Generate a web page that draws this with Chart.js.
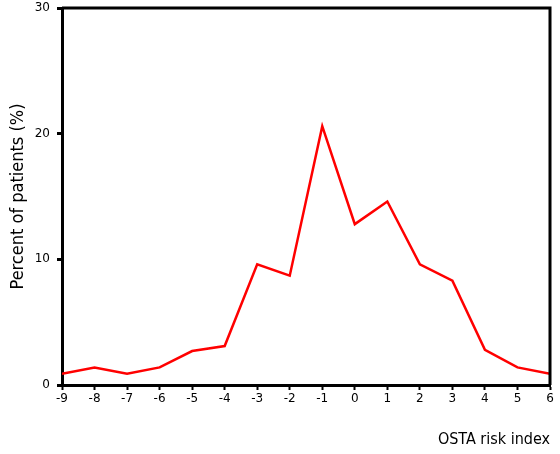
<!DOCTYPE html>
<html>
<head>
<meta charset="utf-8">
<script src="https://cdn.jsdelivr.net/npm/chart.js@4"></script>
<style>
  html, body { margin: 0; padding: 0; background: #fff; }
  #wrap { width: 560px; height: 454px; }
</style>
</head>
<body>
<div id="wrap"><canvas id="c" width="560" height="454"></canvas></div>
<script>
const categories = [-9, -8, -7, -6, -5, -4, -3, -2, -1, 0, 1, 2, 3, 4, 5, 6];
const percentValues = [0.9, 1.4, 0.9, 1.4, 2.7, 3.1, 9.6, 8.7, 20.6, 12.8, 14.6, 9.6, 8.3, 2.8, 1.4, 0.9];
const yTicks = [0, 10, 20, 30];
const xTitle = 'OSTA risk index';
const yTitle = 'Percent of patients (%)';

const points = categories.map((c, i) => ({ x: c, y: percentValues[i] }));

const framePlugin = {
  id: 'frame',
  afterDatasetsDraw(chart) {
    const { ctx, chartArea: a } = chart;
    ctx.save();
    ctx.strokeStyle = '#000';
    ctx.lineWidth = 3;
    ctx.beginPath();
    ctx.moveTo(a.left, a.top);
    ctx.lineTo(a.right, a.top);
    ctx.lineTo(a.right, a.bottom);
    ctx.stroke();
    ctx.restore();
  }
};

new Chart(document.getElementById('c'), {
  type: 'line',
  data: {
    datasets: [{
      data: points,
      borderColor: '#ff0000',
      borderWidth: 2.5,
      pointRadius: 0,
      tension: 0,
      fill: false
    }]
  },
  options: {
    responsive: false,
    animation: false,
    layout: { padding: { left: 0, top: 8, right: 10, bottom: 0 } },
    plugins: { legend: { display: false }, tooltip: { enabled: false } },
    scales: {
      x: {
        type: 'linear',
        min: categories[0],
        max: categories[categories.length - 1],
        afterFit(s) { s.height = 69; s.paddingLeft = 0; s.paddingRight = 0; },
        afterBuildTicks(s) { s.ticks = categories.map(v => ({ value: v })); },
        grid: { drawOnChartArea: false, drawTicks: true, tickLength: 5, tickColor: '#000', tickWidth: 2 },
        border: { display: true, color: '#000', width: 3 },
        ticks: { color: '#000', padding: 2, maxRotation: 0, autoSkip: false,
                 font: { family: 'DejaVu Sans', size: 12 } },
        title: { display: true, text: xTitle, align: 'end', color: '#000',
                 font: { family: 'DejaVu Sans Condensed', size: 16 }, padding: { top: 0, bottom: 5 } }
      },
      y: {
        min: 0,
        max: 30,
        afterFit(s) { s.width = 62; s.paddingTop = 0; s.paddingBottom = 0; },
        afterBuildTicks(s) { s.ticks = yTicks.map(v => ({ value: v })); },
        grid: { drawOnChartArea: false, drawTicks: true, tickLength: 5, tickColor: '#000', tickWidth: 3 },
        border: { display: true, color: '#000', width: 3 },
        ticks: { color: '#000', padding: 7, font: { family: 'DejaVu Sans', size: 12 } },
        title: { display: true, text: yTitle, color: '#000',
                 font: { family: 'DejaVu Sans Condensed', size: 18 }, padding: { top: 8, bottom: 0 } }
      }
    }
  },
  plugins: [framePlugin]
});
</script>
</body>
</html>
